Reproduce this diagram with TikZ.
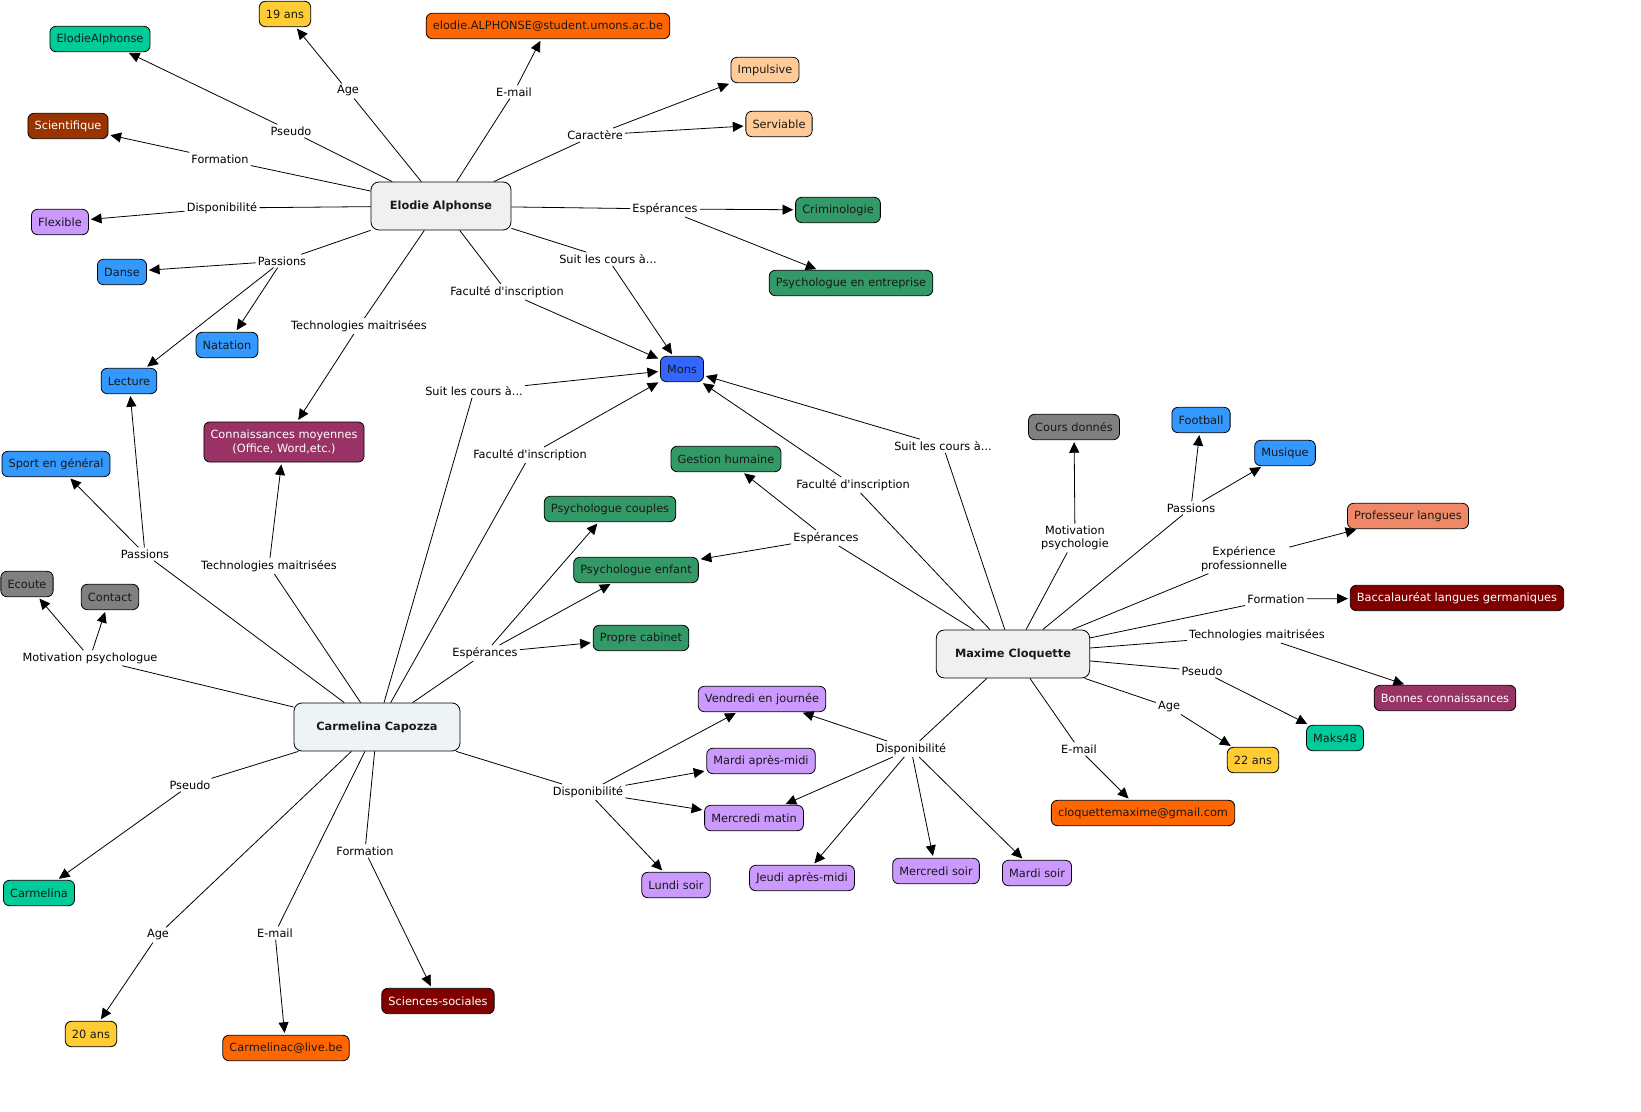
\documentclass[tikz,border=0pt]{standalone}
\usepackage{fontspec}
\setmainfont{DejaVu Sans}[Ligatures=TeXOff]
\usetikzlibrary{arrows.meta}
\newcommand\fsz{\fontsize{8.5}{10}\selectfont}
\definecolor{cyellow}{HTML}{FFCC33}
\definecolor{cteal}{HTML}{00CC99}
\definecolor{corange}{HTML}{FF6600}
\definecolor{cpeach}{HTML}{FFCC99}
\definecolor{cbrown}{HTML}{993300}
\definecolor{clav}{HTML}{CC99FF}
\definecolor{cblue}{HTML}{3399FF}
\definecolor{cgreen}{HTML}{339966}
\definecolor{cmons}{HTML}{3366FF}
\definecolor{cpurple}{HTML}{993366}
\definecolor{cgray}{HTML}{808080}
\definecolor{csalmon}{HTML}{EE8866}
\definecolor{cdred}{HTML}{800000}
\definecolor{cmain}{HTML}{F0F0F0}
\definecolor{cmainb}{HTML}{EEF4F6}
\tikzset{
  concept/.style={draw=black, rounded corners=4.5pt, inner xsep=5pt, inner ysep=0pt,
    minimum height=19pt, line width=0.6pt, font=\fsz, text=black!90},
  mainc/.style={concept, font=\fsz\bfseries, rounded corners=6pt, minimum height=36pt},
  wtext/.style={text=white},
  lp/.style={fill=white, inner sep=1.5pt, font=\fsz, align=center},
  ln/.style={line width=0.6pt},
  ar/.style={line width=0.6pt, -{Triangle[length=8pt,width=7.5pt]}, shorten >=1.5pt},
}
\begin{document}
\begin{tikzpicture}[x=0.75pt,y=-0.75pt]
\useasboundingbox (0,0) rectangle (1641,1112);
% main concepts
\node[mainc, fill=cmain, minimum width=105pt] (E) at (441,206) {Elodie Alphonse};
\node[mainc, fill=cmainb, minimum width=124.5pt] (C) at (377,727) {Carmelina Capozza};
\node[mainc, fill=cmain, minimum width=115pt] (M) at (1013,654) {Maxime Cloquette};
% Elodie concepts
\node[concept, fill=cyellow] (age19) at (285,14) {19 ans};
\node[concept, fill=cteal] (pseudoE) at (100,39) {ElodieAlphonse};
\node[concept, fill=corange] (emailE) at (548,26) {elodie.ALPHONSE@student.umons.ac.be};
\node[concept, fill=cpeach] (impulsive) at (765,70) {Impulsive};
\node[concept, fill=cpeach] (serviable) at (779,124) {Serviable};
\node[concept, fill=cbrown, wtext] (scient) at (68,126) {Scientifique};
\node[concept, fill=clav] (flex) at (60,222) {Flexible};
\node[concept, fill=cblue] (danse) at (122,272) {Danse};
\node[concept, fill=cblue] (natation) at (227,345) {Natation};
\node[concept, fill=cblue] (lecture) at (129,381) {Lecture};
\node[concept, fill=cgreen] (crim) at (838,210) {Criminologie};
\node[concept, fill=cgreen] (psyEnt) at (851,283) {Psychologue en entreprise};
\node[concept, fill=cmons] (mons) at (682,369) {Mons};
\node[concept, fill=cpurple, wtext, align=center, minimum height=30pt] (connMoy) at (284,442) {Connaissances moyennes\\(Office, Word,etc.)};
% Carmelina concepts
\node[concept, fill=cblue] (sport) at (56,464) {Sport en général};
\node[concept, fill=cgray] (ecoute) at (27,584) {Ecoute};
\node[concept, fill=cgray] (contact) at (110,597) {Contact};
\node[concept, fill=cgreen] (psyCouples) at (610,509) {Psychologue couples};
\node[concept, fill=cgreen] (psyEnfant) at (636,570) {Psychologue enfant};
\node[concept, fill=cgreen] (cabinet) at (641,638) {Propre cabinet};
\node[concept, fill=clav] (vendredi) at (762,699) {Vendredi en journée};
\node[concept, fill=clav] (mardiAM) at (761,761) {Mardi après-midi};
\node[concept, fill=clav] (mercMatin) at (754,818) {Mercredi matin};
\node[concept, fill=clav] (lundi) at (676,885) {Lundi soir};
\node[concept, fill=cteal] (carmelina) at (39,893) {Carmelina};
\node[concept, fill=cyellow] (age20) at (91,1034) {20 ans};
\node[concept, fill=corange] (emailC) at (286,1048) {Carmelinac@live.be};
\node[concept, fill=cdred, wtext] (sciences) at (438,1001) {Sciences-sociales};
% Maxime concepts
\node[concept, fill=cgreen] (gestion) at (726,459) {Gestion humaine};
\node[concept, fill=cgray] (cours) at (1074,427) {Cours donnés};
\node[concept, fill=cblue] (football) at (1201,420) {Football};
\node[concept, fill=cblue] (musique) at (1285,453) {Musique};
\node[concept, fill=csalmon] (prof) at (1408,516) {Professeur langues};
\node[concept, fill=cdred, wtext] (bac) at (1457,598) {Baccalauréat langues germaniques};
\node[concept, fill=cpurple, wtext] (bonnes) at (1445,698) {Bonnes connaissances};
\node[concept, fill=cteal] (maks) at (1335,738) {Maks48};
\node[concept, fill=cyellow] (age22) at (1253,760) {22 ans};
\node[concept, fill=corange] (emailM) at (1143,813) {cloquettemaxime@gmail.com};
\node[concept, fill=clav] (jeudi) at (802,878) {Jeudi après-midi};
\node[concept, fill=clav] (mercSoir) at (936,871) {Mercredi soir};
\node[concept, fill=clav] (mardiSoir) at (1037,873) {Mardi soir};
% Elodie links
\node[lp] (eAge) at (348,91) {Age};
\node[lp] (eMail) at (514,92) {E-mail};
\node[lp] (ePseudo) at (291,131) {Pseudo};
\node[lp] (eForm) at (220,159) {Formation};
\node[lp] (eDispo) at (222,208) {Disponibilité};
\node[lp] (ePass) at (282,261) {Passions};
\node[lp] (eCar) at (595,135) {Caractère};
\node[lp] (eEsp) at (665,209) {Espérances};
\node[lp] (eSuit) at (608,259) {Suit les cours à...};
\node[lp] (eFac) at (507,292) {Faculté d'inscription};
\node[lp] (eTech) at (359,326) {Technologies maitrisées};
% Carmelina links
\node[lp] (cSuit) at (474,391) {Suit les cours à...};
\node[lp] (cFac) at (530,455) {Faculté d'inscription};
\node[lp] (cPass) at (145,554) {Passions};
\node[lp] (cTech) at (269,566) {Technologies maitrisées};
\node[lp] (cMot) at (90,658) {Motivation psychologue};
\node[lp] (cEsp) at (485,653) {Espérances};
\node[lp] (cDispo) at (588,792) {Disponibilité};
\node[lp] (cPseudo) at (190,785) {Pseudo};
\node[lp] (cAge) at (158,935) {Age};
\node[lp] (cMail) at (275,933) {E-mail};
\node[lp] (cForm) at (365,851) {Formation};
% Maxime links
\node[lp] (mSuit) at (943,446) {Suit les cours à...};
\node[lp] (mFac) at (853,485) {Faculté d'inscription};
\node[lp] (mEsp) at (826,538) {Espérances};
\node[lp] (mMot) at (1075,538) {Motivation\\psychologie};
\node[lp] (mPass) at (1191,508) {Passions};
\node[lp] (mExp) at (1244,559) {Expérience\\professionnelle};
\node[lp] (mForm) at (1276,599) {Formation};
\node[lp] (mTech) at (1257,635) {Technologies maitrisées};
\node[lp] (mPseudo) at (1202,671) {Pseudo};
\node[lp] (mAge) at (1169,707) {Age};
\node[lp] (mMail) at (1079,749) {E-mail};
\node[lp] (mDispo) at (911,749) {Disponibilité};
% Elodie edges
\foreach \l in {eAge,eMail,ePseudo,eForm,eDispo,ePass,eCar,eEsp,eSuit,eFac,eTech}
  \draw[ln] (E) -- (\l);
\draw[ar] (eAge) -- (age19);
\draw[ar] (eMail) -- (emailE);
\draw[ar] (ePseudo) -- (pseudoE);
\draw[ar] (eForm) -- (scient);
\draw[ar] (eDispo) -- (flex);
\draw[ar] (ePass) -- (danse);
\draw[ar] (ePass) -- (natation);
\draw[ar] (ePass) -- (lecture);
\draw[ar] (eCar) -- (impulsive);
\draw[ar] (eCar) -- (serviable);
\draw[ar] (eEsp) -- (crim);
\draw[ar] (eEsp) -- (psyEnt);
\draw[ar] (eSuit) -- (mons);
\draw[ar] (eFac) -- (mons);
\draw[ar] (eTech) -- (connMoy);
% Carmelina edges
\foreach \l in {cSuit,cFac,cPass,cTech,cMot,cEsp,cDispo,cPseudo,cAge,cMail,cForm}
  \draw[ln] (C) -- (\l);
\draw[ar] (cSuit) -- (mons);
\draw[ar] (cFac) -- (mons);
\draw[ar] (cPass) -- (lecture);
\draw[ar] (cPass) -- (sport);
\draw[ar] (cTech) -- (connMoy);
\draw[ar] (cMot) -- (ecoute);
\draw[ar] (cMot) -- (contact);
\draw[ar] (cEsp) -- (psyCouples);
\draw[ar] (cEsp) -- (psyEnfant);
\draw[ar] (cEsp) -- (cabinet);
\draw[ar] (cDispo) -- (vendredi);
\draw[ar] (cDispo) -- (mardiAM);
\draw[ar] (cDispo) -- (mercMatin);
\draw[ar] (cDispo) -- (lundi);
\draw[ar] (cPseudo) -- (carmelina);
\draw[ar] (cAge) -- (age20);
\draw[ar] (cMail) -- (emailC);
\draw[ar] (cForm) -- (sciences);
% Maxime edges
\foreach \l in {mSuit,mFac,mEsp,mMot,mPass,mExp,mForm,mTech,mPseudo,mAge,mMail,mDispo}
  \draw[ln] (M) -- (\l);
\draw[ar] (mSuit) -- (mons);
\draw[ar] (mFac) -- (mons);
\draw[ar] (mEsp) -- (gestion);
\draw[ar] (mEsp) -- (psyEnfant);
\draw[ar] (mMot) -- (cours);
\draw[ar] (mPass) -- (football);
\draw[ar] (mPass) -- (musique);
\draw[ar] (mExp) -- (prof);
\draw[ar] (mForm) -- (bac);
\draw[ar] (mTech) -- (bonnes);
\draw[ar] (mPseudo) -- (maks);
\draw[ar] (mAge) -- (age22);
\draw[ar] (mMail) -- (emailM);
\draw[ar] (mDispo) -- (vendredi);
\draw[ar] (mDispo) -- (mercMatin);
\draw[ar] (mDispo) -- (jeudi);
\draw[ar] (mDispo) -- (mercSoir);
\draw[ar] (mDispo) -- (mardiSoir);
\end{tikzpicture}
\end{document}
